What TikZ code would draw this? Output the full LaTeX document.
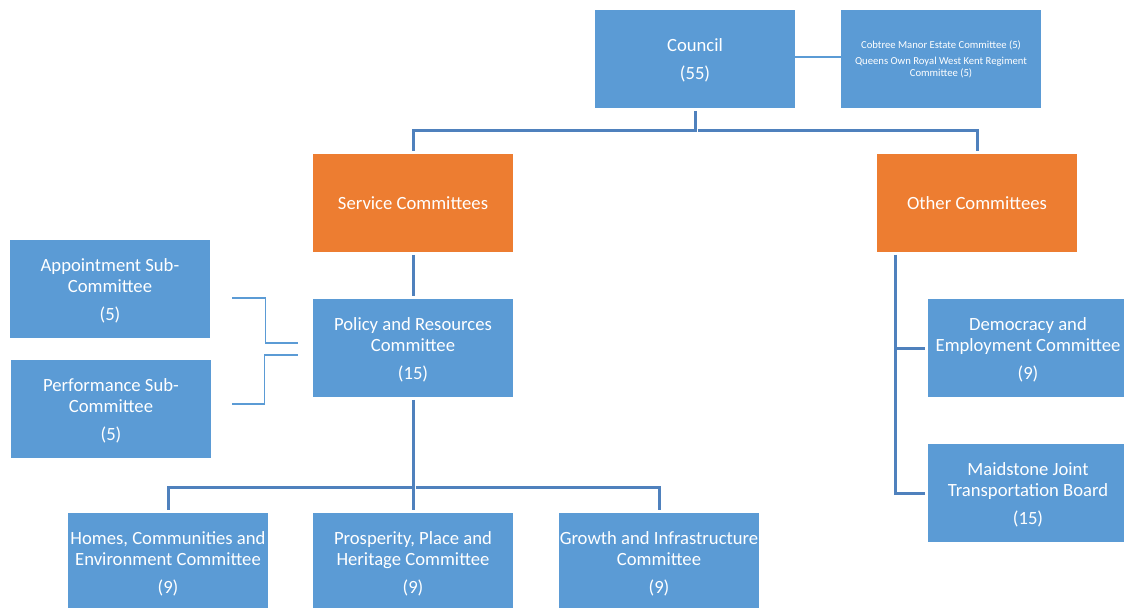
\documentclass[tikz,border=0pt]{standalone}
\usepackage{fontspec}
\setmainfont{Carlito}
\usetikzlibrary{calc}
\definecolor{boxblue}{HTML}{5B9BD5}
\definecolor{boxorange}{HTML}{ED7D31}
\definecolor{linkblue}{HTML}{4F81BD}

% a tall invisible strut that lowers the text block a little inside its box
\newcommand\toplift{\rule{0pt}{0.86em}}

\tikzset{
  unit/.style={fill=boxblue, text=white, minimum width=150pt, minimum height=73.5pt,
    inner sep=0pt, align=center, font=\fontsize{14}{15.75}\selectfont},
  group/.style={unit, fill=boxorange},
  small unit/.style={unit, font=\fontsize{8}{9}\selectfont},
  link/.style={draw=linkblue, line width=2.25pt, shorten <=2pt, shorten >=2pt},
  thin link/.style={draw=boxblue, line width=0.9pt},
}

\begin{document}
\begin{tikzpicture}[x=0.75pt, y=-0.75pt]
  \useasboundingbox (0,0) rectangle (1124,607);

  % council level
  \node[unit] (council) at (695,59) {\toplift Council\\[5.25pt](55)};
  \node[small unit] (cobtree) at (941,59) {\toplift Cobtree Manor Estate Committee (5)\\[3pt]Queens Own Royal West Kent Regiment\\Committee (5)};

  % committee groups
  \node[group] (service) at (413,203) {Service Committees};
  \node[group] (other) at (977,203) {Other Committees};

  % service committees
  \node[unit] (policy) at (413,348) {\toplift Policy and Resources\\Committee\\[5.25pt](15)};
  \node[unit] (appoint) at (110,289) {\toplift Appointment Sub-\\Committee\\[5.25pt](5)};
  \node[unit] (perform) at (111,409) {\toplift Performance Sub-\\Committee\\[5.25pt](5)};
  \node[unit] (homes) at (168,562) {\toplift Homes, Communities and\\Environment Committee\\[5.25pt](9)};
  \node[unit] (prosper) at (413,562) {\toplift Prosperity, Place and\\Heritage Committee\\[5.25pt](9)};
  \node[unit] (growth) at (659,562) {\toplift Growth and Infrastructure\\Committee\\[5.25pt](9)};

  % other committees
  \node[unit] (democracy) at (1028,348) {\toplift Democracy and\\Employment Committee\\[5.25pt](9)};
  \node[unit] (transport) at (1028,493) {\toplift Maidstone Joint\\Transportation Board\\[5.25pt](15)};

  % connectors from the council
  \draw[thin link] ($(council.east)+(0,-2)$) -- ($(cobtree.west)+(0,-2)$);
  \coordinate (cbar) at ($(council.south)+(0,22)$);
  \draw[link] (council.south) -- (cbar) -| (service.north);
  \draw[link] (cbar) -| (other.north);

  % service committees tree
  \draw[link] (service.south) -- (policy.north);
  \coordinate (pbar) at ($(prosper.north)+(0,-25)$);
  \draw[link] (policy.south) -- (pbar) -| (homes.north);
  \draw[link] (pbar) -| (growth.north);
  \draw[link, shorten <=0pt] (pbar) -- (prosper.north);

  % sub-committee brackets
  \draw[thin link] ($(appoint.east)+(22,9)$) -- ++(33,0) |- ($(policy.west)+(-15,-5)$);
  \draw[thin link] ($(policy.west)+(-15,7)$) -- ++(-33,0) |- ($(perform.east)+(21,-5)$);

  % other committees tree
  \coordinate (ospine) at ($(other.south west)+(19,0)$);
  \draw[link] (ospine) |- (democracy.west);
  \draw[link] (ospine) |- (transport.west);
\end{tikzpicture}
\end{document}
